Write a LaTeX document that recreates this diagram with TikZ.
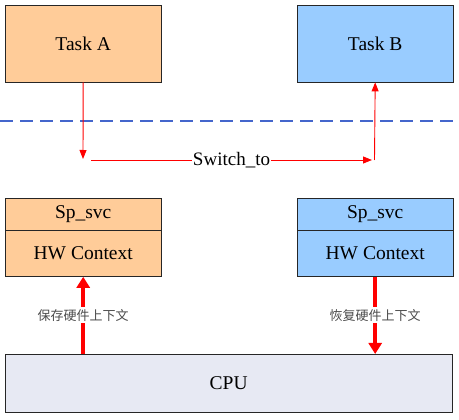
\documentclass[tikz,border=0pt]{standalone}
\usepackage{fontspec}
\setmainfont{Liberation Serif}
\newfontfamily\cjk{Noto Sans CJK SC}
\usetikzlibrary{arrows.meta}

\definecolor{taskorange}{HTML}{FFCC99}
\definecolor{taskblue}{HTML}{99CCFF}
\definecolor{cpugray}{HTML}{E7E9F3}
\definecolor{sepblue}{HTML}{4466CC}

\begin{document}
\begin{tikzpicture}[x=1pt,y=-1pt,
  box/.style={draw=black!85,fill=#1,minimum width=156pt,inner sep=0pt,anchor=north west,
    font=\fontsize{19.5}{21}\selectfont},
  thinarrow/.style={red,line width=0.9pt,-{Triangle[length=9pt,width=7pt]}},
  thickarrow/.style={red,line width=3.6pt,-{Triangle[length=11pt,width=13pt]}},
  cjklabel/.style={fill=white,text=black!70,inner sep=2pt,font=\cjk\fontsize{13}{14}\selectfont}]
  \useasboundingbox (0,0) rectangle (459,420);
  % tasks
  \node[box=taskorange,minimum height=77pt] (taskA) at (5,5) {Task A};
  \node[box=taskblue,minimum height=77pt] (taskB) at (297,5) {Task B};
  % user / kernel line
  \draw[sepblue,line width=1.1pt,dash pattern=on 13pt off 7pt] (0,121) -- (459,121);
  % switch
  \coordinate (downend) at (83,159);
  \coordinate (swstart) at (91,160);
  \coordinate (swend) at (372,160);
  \coordinate (upstart) at (374.5,160);
  \draw[thinarrow] (taskA.south) -- (downend);
  \draw[thinarrow] (swstart) -- (swend)
    node[midway,fill=white,text=black,inner sep=1pt,font=\fontsize{19}{20}\selectfont] (switch) {Switch\_to};
  \draw[thinarrow] (upstart) -- (taskB.south);
  % contexts
  \node[box=taskorange,minimum height=32pt] (spA) at (5,198) {Sp\_svc};
  \node[box=taskorange,minimum height=46pt] (hwA) at (spA.south west) {HW Context};
  \node[box=taskblue,minimum height=32pt] (spB) at (297,198) {Sp\_svc};
  \node[box=taskblue,minimum height=46pt] (hwB) at (spB.south west) {HW Context};
  % cpu
  \node[draw=black!85,fill=cpugray,minimum width=447pt,minimum height=58pt,anchor=north west,
    font=\fontsize{19.5}{21}\selectfont] (cpu) at (5,354) {CPU};
  \draw[thickarrow] (cpu.north -| hwA.south) -- (hwA.south)
    node[midway,cjklabel] {保存硬件上下文};
  \draw[thickarrow] (hwB.south) -- (cpu.north -| hwB.south)
    node[midway,cjklabel] {恢复硬件上下文};
\end{tikzpicture}
\end{document}
